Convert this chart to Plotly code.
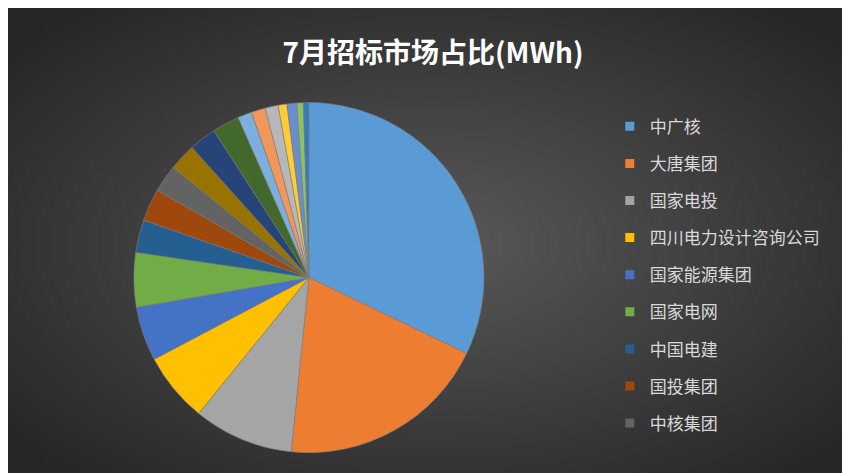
import plotly.graph_objects as go

# legend entries shown in the chart
labels = ["中广核", "大唐集团", "国家电投", "四川电力设计咨询公司", "国家能源集团",
          "国家电网", "中国电建", "国投集团", "中核集团",
          "其他10", "其他11", "其他12", "其他13", "其他14", "其他15",
          "其他16", "其他17", "其他18", "其他19"]
shares = [32.0, 19.4, 9.2, 6.4, 5.0, 5.0, 3.0, 3.0, 2.5,
          2.5, 2.5, 2.5, 1.3, 1.3, 1.2, 0.8, 0.9, 0.6, 0.5]
colors = ["#5B9BD5", "#ED7D31", "#A5A5A5", "#FFC000", "#4472C4", "#70AD47",
          "#255E91", "#9E480E", "#636363", "#997300", "#264478", "#43682B",
          "#7CAFDD", "#F1975A", "#B7B7B7", "#FFCD33", "#698ED0", "#8CC168",
          "#327DC2"]
n_legend = 9

fig = go.Figure()
fig.add_trace(go.Pie(
    labels=labels, values=shares, sort=False, direction="clockwise",
    marker=dict(colors=colors, line=dict(color="#7f7f7f", width=0.6)),
    textinfo="none", hoverinfo="label+percent", showlegend=False,
    domain=dict(x=[0.148, 0.560], y=[0.060, 0.800]),
))

for i in range(n_legend):
    fig.add_trace(go.Scatter(
        x=[None], y=[None], mode="markers", name=labels[i],
        legendgroup=str(i),
        marker=dict(symbol="square", size=9, color=colors[i]),
    ))

bg = ("data:image/svg+xml;utf8,<svg xmlns='http://www.w3.org/2000/svg' width='850' height='473' "
      "preserveAspectRatio='none'>"
      "<defs><radialGradient id='g' cx='50%' cy='50%' r='65%'>"
      "<stop offset='0' stop-color='%23595959'/><stop offset='1' stop-color='%23262626'/>"
      "</radialGradient></defs><rect width='850' height='473' fill='url(%23g)'/></svg>")

fig.update_layout(
    width=850, height=473,
    margin=dict(l=0, r=0, t=0, b=0),
    paper_bgcolor="#2a2a2a", plot_bgcolor="rgba(0,0,0,0)",
    images=[dict(source=bg, xref="paper", yref="paper", x=0, y=1, sizex=1, sizey=1,
                 sizing="stretch", layer="below")],
    title=dict(text="<b>7月招标市场占比(MWh)</b>", x=0.5, y=0.905, xanchor="center",
               yanchor="middle",
               font=dict(family="Noto Sans CJK SC", size=28, color="#ffffff")),
    xaxis=dict(visible=False), yaxis=dict(visible=False),
    legend=dict(x=0.708, y=0.787, xanchor="left", yanchor="top",
                font=dict(family="Noto Sans CJK SC", size=17, color="#d9d9d9"),
                tracegroupgap=12, itemwidth=30, bgcolor="rgba(0,0,0,0)"),
    font=dict(family="Noto Sans CJK SC"),
)

fig.write_html("out.html")
